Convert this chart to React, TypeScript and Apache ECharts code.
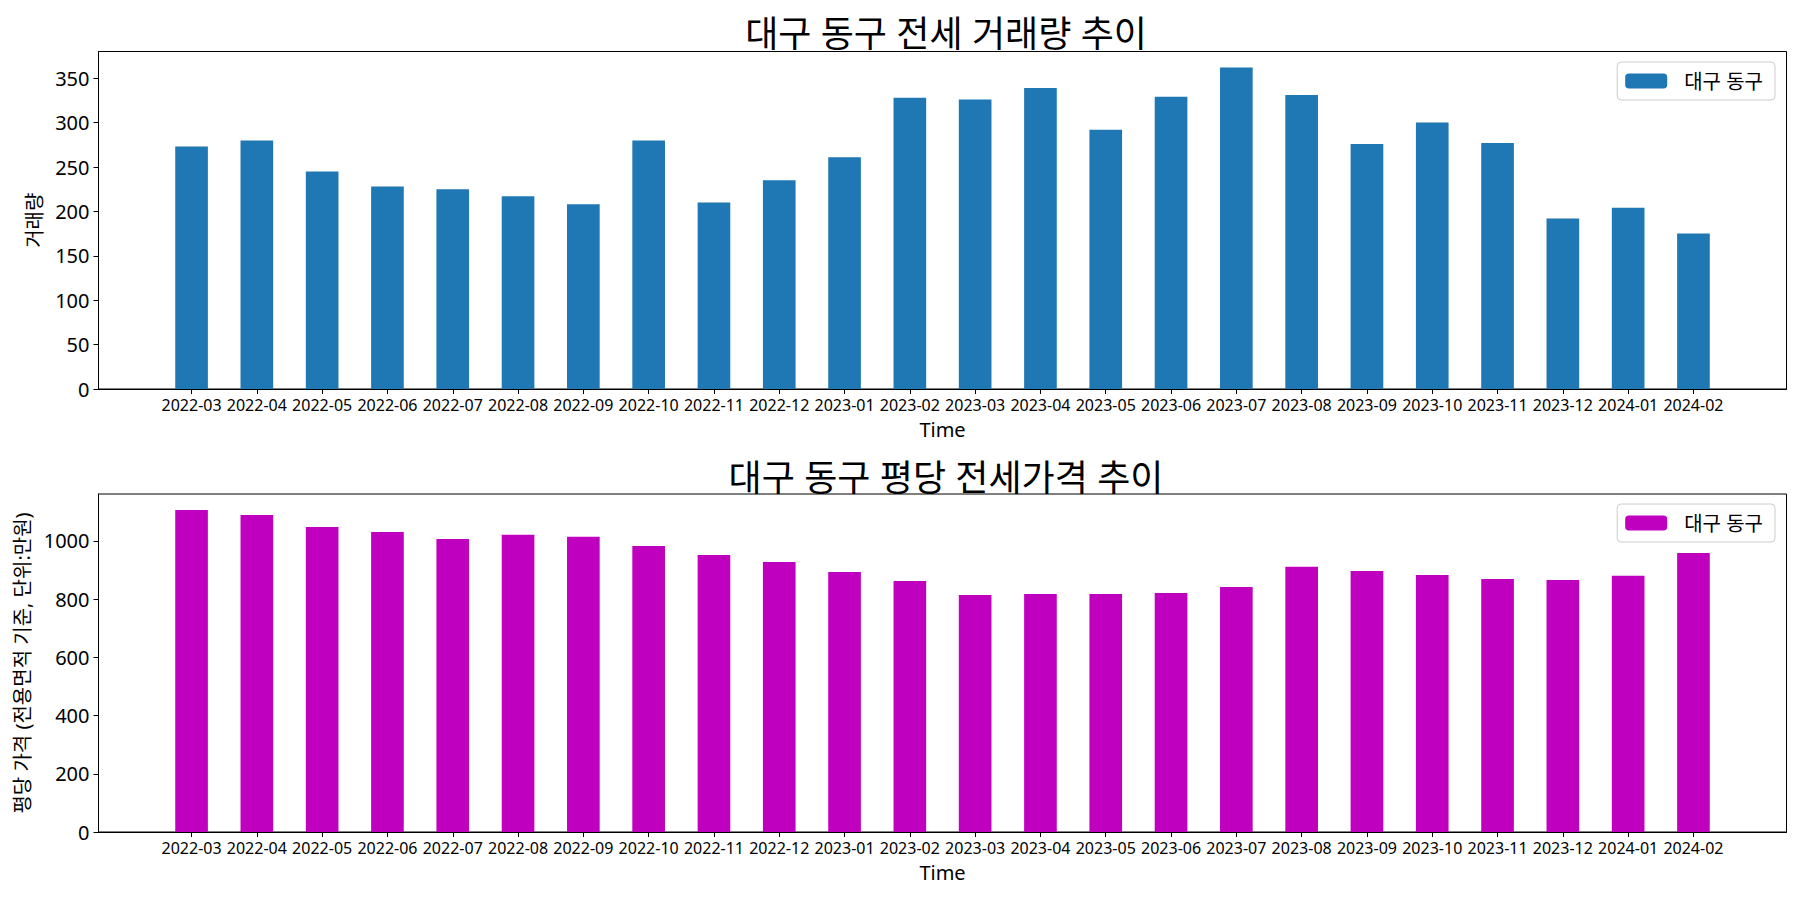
import React, { useEffect, useRef } from "react";
import * as echarts from "echarts";

const months = [
  "2022-03", "2022-04", "2022-05", "2022-06", "2022-07", "2022-08", "2022-09", "2022-10",
  "2022-11", "2022-12", "2023-01", "2023-02", "2023-03", "2023-04", "2023-05", "2023-06",
  "2023-07", "2023-08", "2023-09", "2023-10", "2023-11", "2023-12", "2024-01", "2024-02",
];
const volume = [273, 280, 245, 228, 225, 217, 208, 280, 210, 235, 261, 328, 326, 339, 292, 329, 362, 331, 276, 300, 277, 192, 204, 175];
const price = [1106, 1089, 1048, 1031, 1007, 1021, 1014, 983, 952, 928, 893, 862, 814, 818, 818, 821, 842, 911, 897, 883, 869, 866, 880, 959];
const volumeTicks = [0, 50, 100, 150, 200, 250, 300, 350];
const priceTicks = [0, 200, 400, 600, 800, 1000];

const titleTop = "대구 동구 전세 거래량 추이";
const titleBottom = "대구 동구 평당 전세가격 추이";
const legendLabel = "대구 동구";
const yNameTop = "거래량";
const yNameBottom = "평당 가격 (전용면적 기준, 단위:만원)";
const xName = "Time";

const FONT = "'Noto Sans', 'Noto Sans CJK KR', sans-serif";

export default function App() {
  const ref = useRef<HTMLDivElement>(null);
  useEffect(() => {
    document.body.style.margin = "0";
    if (!ref.current) return;
    const chart = echarts.init(ref.current, null, { renderer: "svg" });
    const n = months.length;
    const barW = 0.5;
    const span = (n - 1) + barW;
    const xMin = -barW / 2 - 0.05 * span;
    const xMax = n - 1 + barW / 2 + 0.05 * span;
    const gridLeft = 98.5;
    const gridRight = 13.5;
    const plotW = 1800 - gridLeft - gridRight;
    const barPx = (plotW / (xMax - xMin)) * barW;
    const idx = months.map((_, i) => i);

    const mkX = (gi: number) => ({
      type: "value",
      gridIndex: gi,
      min: xMin,
      max: xMax,
      name: xName,
      nameLocation: "middle",
      nameGap: 30,
      nameTextStyle: { fontSize: 20, color: "#000", fontFamily: FONT },
      axisLine: { show: true, onZero: false, lineStyle: { color: "#000", width: 1 } },
      axisTick: { show: true, length: 5, customValues: idx, lineStyle: { color: "#000" } },
      axisLabel: {
        customValues: idx,
        formatter: (v: number) => months[Math.round(v)] ?? "",
        fontSize: 16,
        color: "#000",
        fontFamily: FONT,
        margin: 8,
        hideOverlap: false,
      },
      splitLine: { show: false },
    });
    const mkY = (gi: number, max: number, ticks: number[], name: string, gap: number) => ({
      type: "value",
      gridIndex: gi,
      min: 0,
      max,
      name,
      nameLocation: "middle",
      nameGap: gap,
      nameTextStyle: { fontSize: 20, color: "#000", fontFamily: FONT },
      axisLine: { show: true, onZero: false, lineStyle: { color: "#000", width: 1 } },
      axisTick: { show: true, length: 5, customValues: ticks, lineStyle: { color: "#000" } },
      axisLabel: {
        customValues: ticks,
        formatter: (v: number) => String(v),
        fontSize: 20,
        color: "#000",
        fontFamily: FONT,
        margin: 9,
      },
      splitLine: { show: false },
    });
    const mkLegend = (name: string, top: number) => ({
      data: [name],
      right: 25,
      top,
      orient: "vertical",
      itemWidth: 42,
      itemHeight: 15,
      padding: [9, 12, 9, 8],
      borderColor: "#cccccc",
      borderWidth: 1,
      borderRadius: 4,
      backgroundColor: "rgba(255,255,255,0.8)",
      formatter: () => legendLabel,
      textStyle: { fontSize: 20, color: "#000", fontFamily: FONT, padding: [0, 0, 0, 12] },
      selectedMode: false,
    });

    chart.setOption({
      animation: false,
      backgroundColor: "#fff",
      title: [
        { text: titleTop, left: 941, top: 10, textAlign: "center", textStyle: { fontSize: 36, fontWeight: "normal", color: "#000", fontFamily: FONT } },
        { text: titleBottom, left: 941, top: 454, textAlign: "center", textStyle: { fontSize: 36, fontWeight: "normal", color: "#000", fontFamily: FONT } },
      ],
      legend: [mkLegend("volume", 62), mkLegend("price", 504)],
      grid: [
        { left: gridLeft, right: gridRight, top: 51.5, height: 337.5, show: true, borderColor: "#000", borderWidth: 1, containLabel: false },
        { left: gridLeft, right: gridRight, top: 494, height: 338, show: true, borderColor: "#000", borderWidth: 1, containLabel: false },
      ],
      xAxis: [mkX(0), mkX(1)],
      yAxis: [
        mkY(0, Math.max(...volume) * 1.05, volumeTicks, yNameTop, 50),
        mkY(1, Math.max(...price) * 1.05, priceTicks, yNameBottom, 64),
      ],
      series: [
        {
          name: "volume",
          type: "bar",
          xAxisIndex: 0,
          yAxisIndex: 0,
          barWidth: barPx,
          itemStyle: { color: "#1f77b4" },
          data: volume.map((v, i) => [i, v]),
        },
        {
          name: "price",
          type: "bar",
          xAxisIndex: 1,
          yAxisIndex: 1,
          barWidth: barPx,
          itemStyle: { color: "#bf00bf" },
          data: price.map((v, i) => [i, v]),
        },
      ],
    });
    return () => chart.dispose();
  }, []);
  return <div ref={ref} style={{ width: 1800, height: 900 }} />;
}
